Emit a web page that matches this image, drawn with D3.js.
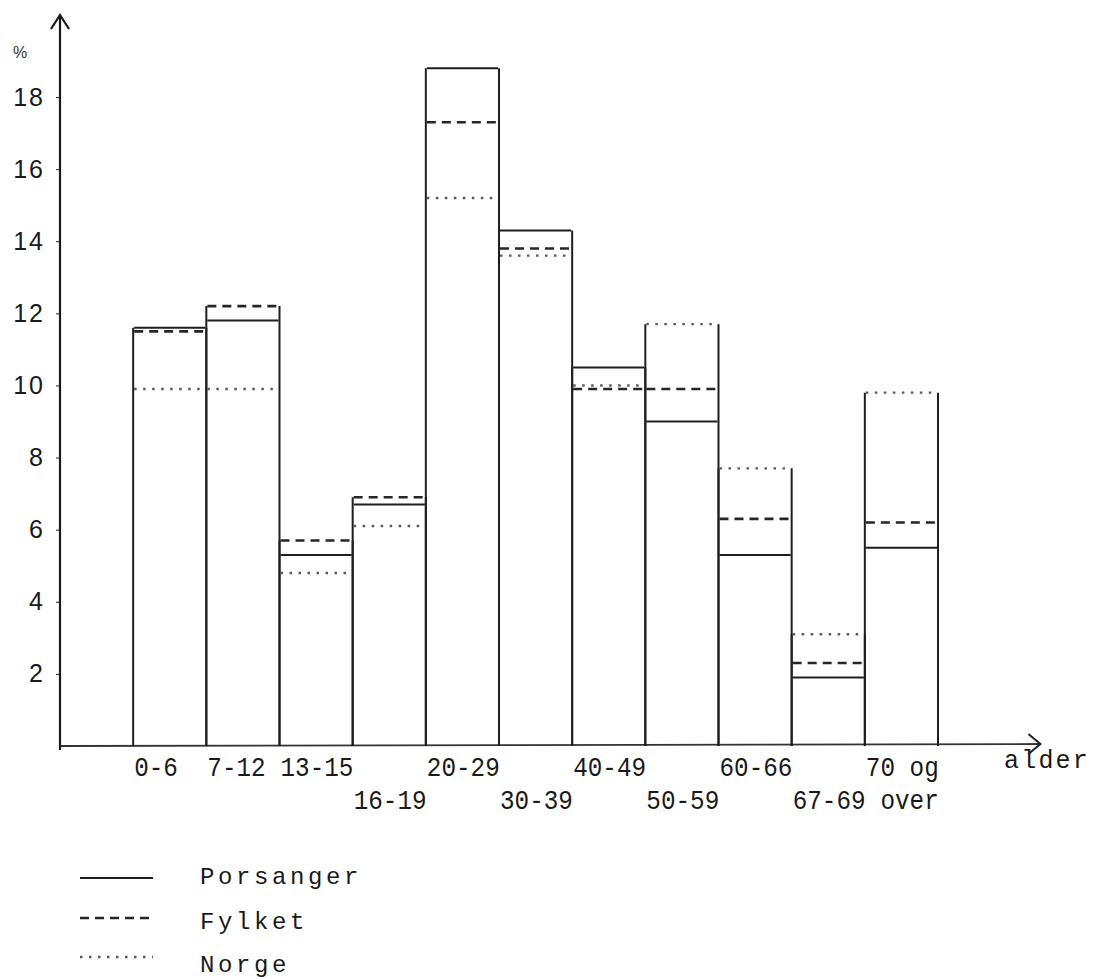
<!DOCTYPE html>
<html>
<head>
<meta charset="utf-8">
<script src="https://cdn.jsdelivr.net/npm/d3@7"></script>
<style>
  body { margin: 0; background: #fff; }
  svg { display: block; }
  .tick line { stroke: #222; }
</style>
</head>
<body>
<div id="chart"></div>
<script>
//age groups along the bottom, one bar each
const ageGroups = ["0-6", "7-12", "13-15", "16-19", "20-29", "30-39", "40-49", "50-59", "60-66", "67-69", "70 og over"];
//the labels are typed on two rows, alternating
const labelTop = ["0-6", "7-12", "13-15", "", "20-29", "", "40-49", "", "60-66", "", "70 og"];
const labelBottom = ["", "", "", "16-19", "", "30-39", "", "50-59", "", "67-69", " over"];

//percent of population in each age group
const porsanger = [11.6, 11.8, 5.3, 6.7, 18.8, 14.3, 10.5, 9.0, 5.3, 1.9, 5.5];
const fylket = [11.5, 12.2, 5.7, 6.9, 17.3, 13.8, 9.9, 9.9, 6.3, 2.3, 6.2];
const norge = [9.9, 9.9, 4.8, 6.1, 15.2, 13.6, 10.0, 11.7, 7.7, 3.1, 9.8];

const yTicks = [2, 4, 6, 8, 10, 12, 14, 16, 18];

const seriesNames = ["Porsanger", "Fylket", "Norge"];
const seriesStyle = [
	{dash: null, width: 2, color: "#1e1e1e"},
	{dash: "9,6", width: 2.6, color: "#262626"},
	{dash: "2.5,6.5", width: 2.4, color: "#5a5a5a"}
];
const series = [porsanger, fylket, norge];

const W = 1097, H = 979;

const svg = d3.select("#chart").append("svg")
	.attr("width", W)
	.attr("height", H);

//bar i sits between x(i) and x(i+1); one empty slot next to the axis
const x = d3.scaleLinear().domain([-1, 11]).range([60, 938]);
const y = d3.scaleLinear().domain([0, 18]).range([746, 97]);

//axes: plain lines with open arrow heads
svg.append("line")
	.attr("x1", x(-1)).attr("x2", x(-1))
	.attr("y1", y(0) + 4).attr("y2", 15)
	.attr("stroke", "#1a1a1a").attr("stroke-width", 2.2);
svg.append("path")
	.attr("d", "M" + (x(-1) - 9) + ",29 L" + x(-1) + ",15 L" + (x(-1) + 9) + ",29")
	.attr("fill", "none").attr("stroke", "#1a1a1a").attr("stroke-width", 2.2);

const xEnd = x(12.4);
svg.append("line")
	.attr("x1", x(-1)).attr("x2", xEnd)
	.attr("y1", y(0)).attr("y2", y(0) - 2)
	.attr("stroke", "#333").attr("stroke-width", 1.8);
svg.append("path")
	.attr("d", "M" + (xEnd - 12) + "," + (y(0) - 12) + " L" + xEnd + "," + (y(0) - 2) + " L" + (xEnd - 12) + "," + (y(0) + 8))
	.attr("fill", "none").attr("stroke", "#222").attr("stroke-width", 2);

//y ticks and numbers
const yAxis = svg.append("g")
	.attr("transform", "translate(" + x(-1) + ",0)")
	.call(d3.axisLeft(y)
		.tickValues(yTicks)
		.tickSize(4)
		.tickPadding(11)
		.tickFormat(d3.format("d")));
yAxis.select(".domain").remove();
yAxis.selectAll("text")
	.attr("font-family", "Liberation Sans, Arial, sans-serif")
	.attr("font-size", 25)
	.attr("letter-spacing", 2)
	.attr("fill", "#1a1a1a");

svg.append("text")
	.attr("x", 13).attr("y", 58)
	.attr("font-family", "Liberation Sans, sans-serif")
	.attr("font-size", 16)
	.attr("fill", "#333")
	.text("%");

//bar outlines: two sides up to the highest of the three levels
const bars = svg.selectAll(".bar")
	.data(ageGroups)
	.enter()
	.append("g")
	.attr("class", "bar");
bars.each(function(d, i) {
	const top = d3.max(series, s => s[i]);
	[i, i + 1].forEach(edge => {
		d3.select(this).append("line")
			.attr("x1", x(edge)).attr("x2", x(edge))
			.attr("y1", y(0)).attr("y2", y(top))
			.attr("stroke", "#1e1e1e").attr("stroke-width", 2);
	});
});

//one level line per series in each bar
series.forEach((values, s) => {
	svg.selectAll(".level" + s)
		.data(values)
		.enter()
		.append("line")
		.attr("class", "level" + s)
		.attr("x1", (d, i) => x(i) + 1)
		.attr("x2", (d, i) => x(i + 1) - 1)
		.attr("y1", d => y(d))
		.attr("y2", d => y(d))
		.attr("stroke", seriesStyle[s].color)
		.attr("stroke-width", seriesStyle[s].width)
		.attr("stroke-dasharray", seriesStyle[s].dash);
});

//age labels, typewriter style
function typed(sel) {
	sel.attr("font-family", "Liberation Mono, DejaVu Sans Mono, monospace")
		.attr("font-size", 27)
		.attr("fill", "#1a1a1a")
		.style("white-space", "pre");
}
[labelTop, labelBottom].forEach((row, r) => {
	svg.selectAll(".lab" + r)
		.data(row)
		.enter()
		.append("text")
		.attr("class", "lab" + r)
		.attr("transform", (d, i) => "translate(" + (x(i) + 1) + "," + (r === 0 ? 776 : 809) + ") scale(0.9,1)")
		.text(d => d)
		.call(typed);
});

svg.append("text")
	.attr("x", 1004).attr("y", 768)
	.attr("font-family", "Liberation Mono, monospace")
	.attr("font-size", 25)
	.attr("letter-spacing", 2.2)
	.attr("fill", "#1a1a1a")
	.text("alder");

//legend
const legendY = [878, 918, 957];
const legendBase = [884, 929, 972];
seriesNames.forEach((name, s) => {
	svg.append("line")
		.attr("x1", 80).attr("x2", 153)
		.attr("y1", legendY[s]).attr("y2", legendY[s])
		.attr("stroke", seriesStyle[s].color)
		.attr("stroke-width", seriesStyle[s].width)
		.attr("stroke-dasharray", seriesStyle[s].dash);
	svg.append("text")
		.attr("x", 200).attr("y", legendBase[s])
		.attr("font-family", "Liberation Mono, monospace")
		.attr("font-size", 24)
		.attr("letter-spacing", 3.6)
		.attr("fill", "#1a1a1a")
		.text(name);
});
</script>
</body>
</html>
